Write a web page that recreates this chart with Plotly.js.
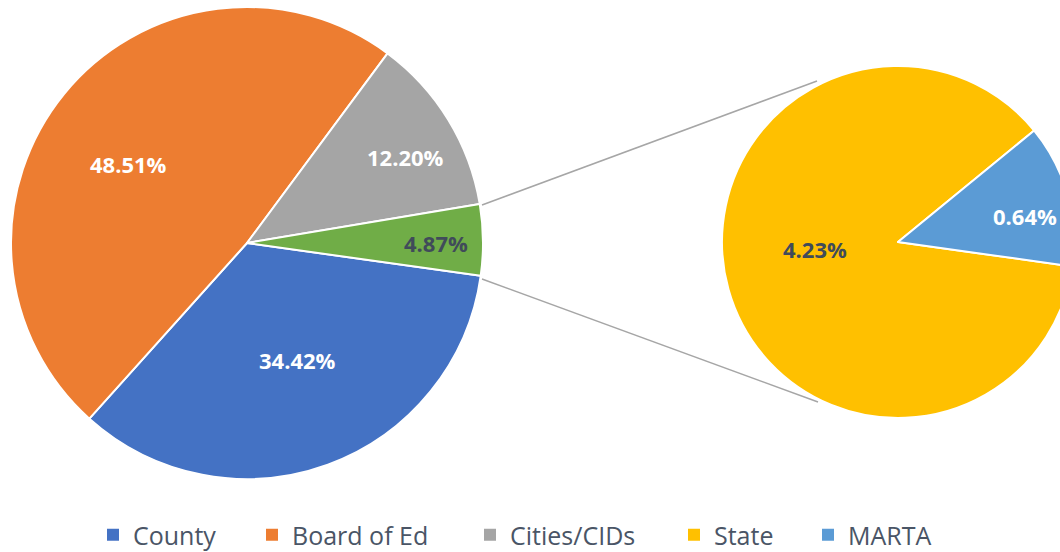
<!DOCTYPE html>
<html>
<head>
<meta charset="utf-8">
<script src="https://cdn.plot.ly/plotly-3.0.1.min.js"></script>
<style>
html,body{margin:0;padding:0;overflow:hidden;background:#fff;width:1060px;height:552px;}
#chart{width:1100px;height:552px;}
</style>
</head>
<body>
<div id="chart"></div>
<script>
// Main pie
var mainLabels = ["County", "Board of Ed", "Cities/CIDs", "State + MARTA"];
var mainValues = [34.42, 48.51, 12.20, 4.87];
var mainColors = ["#4472C4", "#ED7D31", "#A5A5A5", "#70AD47"];
var mainTextColors = ["#FFFFFF", "#FFFFFF", "#FFFFFF", "#404B5A"];

// Secondary pie (breakdown of the green slice)
var subLabels = ["State", "MARTA"];
var subValues = [4.23, 0.64];
var subColors = ["#FFC000", "#5B9BD5"];
var subTextColors = ["#404B5A", "#FFFFFF"];

// Legend entries
var legendLabels = ["County", "Board of Ed", "Cities/CIDs", "State", "MARTA"];
var legendColors = ["#4472C4", "#ED7D31", "#A5A5A5", "#FFC000", "#5B9BD5"];

var W = 1100, H = 552;
function px(x){ return x / W; }
function py(y){ return (H - y) / H; }

// label placement (pixel centres) for the slice labels
var mainLabelPos = [[297, 360], [128, 164], [405, 157], [436, 243]];
var subLabelPos = [[815, 249], [1025, 216]];
// legend marker centres (pixels)
var legendPos = [112, 271, 489, 693, 827];

var traces = [];
traces.push({
  type: "pie",
  labels: mainLabels,
  values: mainValues,
  sort: false,
  direction: "clockwise",
  rotation: 98,
  marker: {colors: mainColors, line: {color: "#FFFFFF", width: 2}},
  textinfo: "none",
  hoverinfo: "label+value",
  showlegend: false,
  domain: {x: [px(11), px(483)], y: [py(479), py(7)]}
});
traces.push({
  type: "pie",
  labels: subLabels,
  values: subValues,
  sort: false,
  direction: "clockwise",
  rotation: 98,
  marker: {colors: subColors, line: {color: "#FFFFFF", width: 2}},
  textinfo: "none",
  hoverinfo: "label+value",
  showlegend: false,
  domain: {x: [px(722), px(1074)], y: [py(418), py(66)]}
});

var layout = {
  width: W, height: H,
  margin: {l: 0, r: 0, t: 0, b: 0, autoexpand: false},
  paper_bgcolor: "#FFFFFF",
  plot_bgcolor: "#FFFFFF",
  xaxis: {visible: false},
  yaxis: {visible: false},
  showlegend: true,
  annotations: [],
  shapes: [
    {type: "line", xref: "paper", yref: "paper", x0: px(482), y0: py(205), x1: px(817), y1: py(81),
     line: {color: "#A6A6A6", width: 1.5}},
    {type: "line", xref: "paper", yref: "paper", x0: px(482), y0: py(279), x1: px(818), y1: py(402),
     line: {color: "#A6A6A6", width: 1.5}}
  ]
};

for (var i = 0; i < legendLabels.length; i++) {
  var key = i === 0 ? "legend" : "legend" + (i + 1);
  traces.push({
    type: "scatter",
    mode: "markers",
    x: [null], y: [null],
    name: legendLabels[i],
    legend: key,
    marker: {symbol: "square", size: 12, color: legendColors[i]},
    showlegend: true,
    hoverinfo: "skip"
  });
  layout[key] = {
    orientation: "h",
    x: px(legendPos[i] - 19), xanchor: "left",
    y: py(535), yanchor: "middle",
    font: {family: "Open Sans", size: 25, color: "#4A5566"},
    itemwidth: 30,
    bgcolor: "rgba(0,0,0,0)"
  };
}

function addLabels(vals, pos, colors) {
  for (var k = 0; k < vals.length; k++) {
    layout.annotations.push({
      xref: "paper", yref: "paper",
      x: px(pos[k][0]), y: py(pos[k][1]),
      xanchor: "center", yanchor: "middle",
      showarrow: false,
      text: vals[k].toFixed(2) + "%",
      font: {family: "Open Sans", size: 22, weight: "bold", color: colors[k]}
    });
  }
}
addLabels(mainValues, mainLabelPos, mainTextColors);
addLabels(subValues, subLabelPos, subTextColors);

Plotly.newPlot("chart", traces, layout, {displayModeBar: false, staticPlot: true});
</script>
</body>
</html>
